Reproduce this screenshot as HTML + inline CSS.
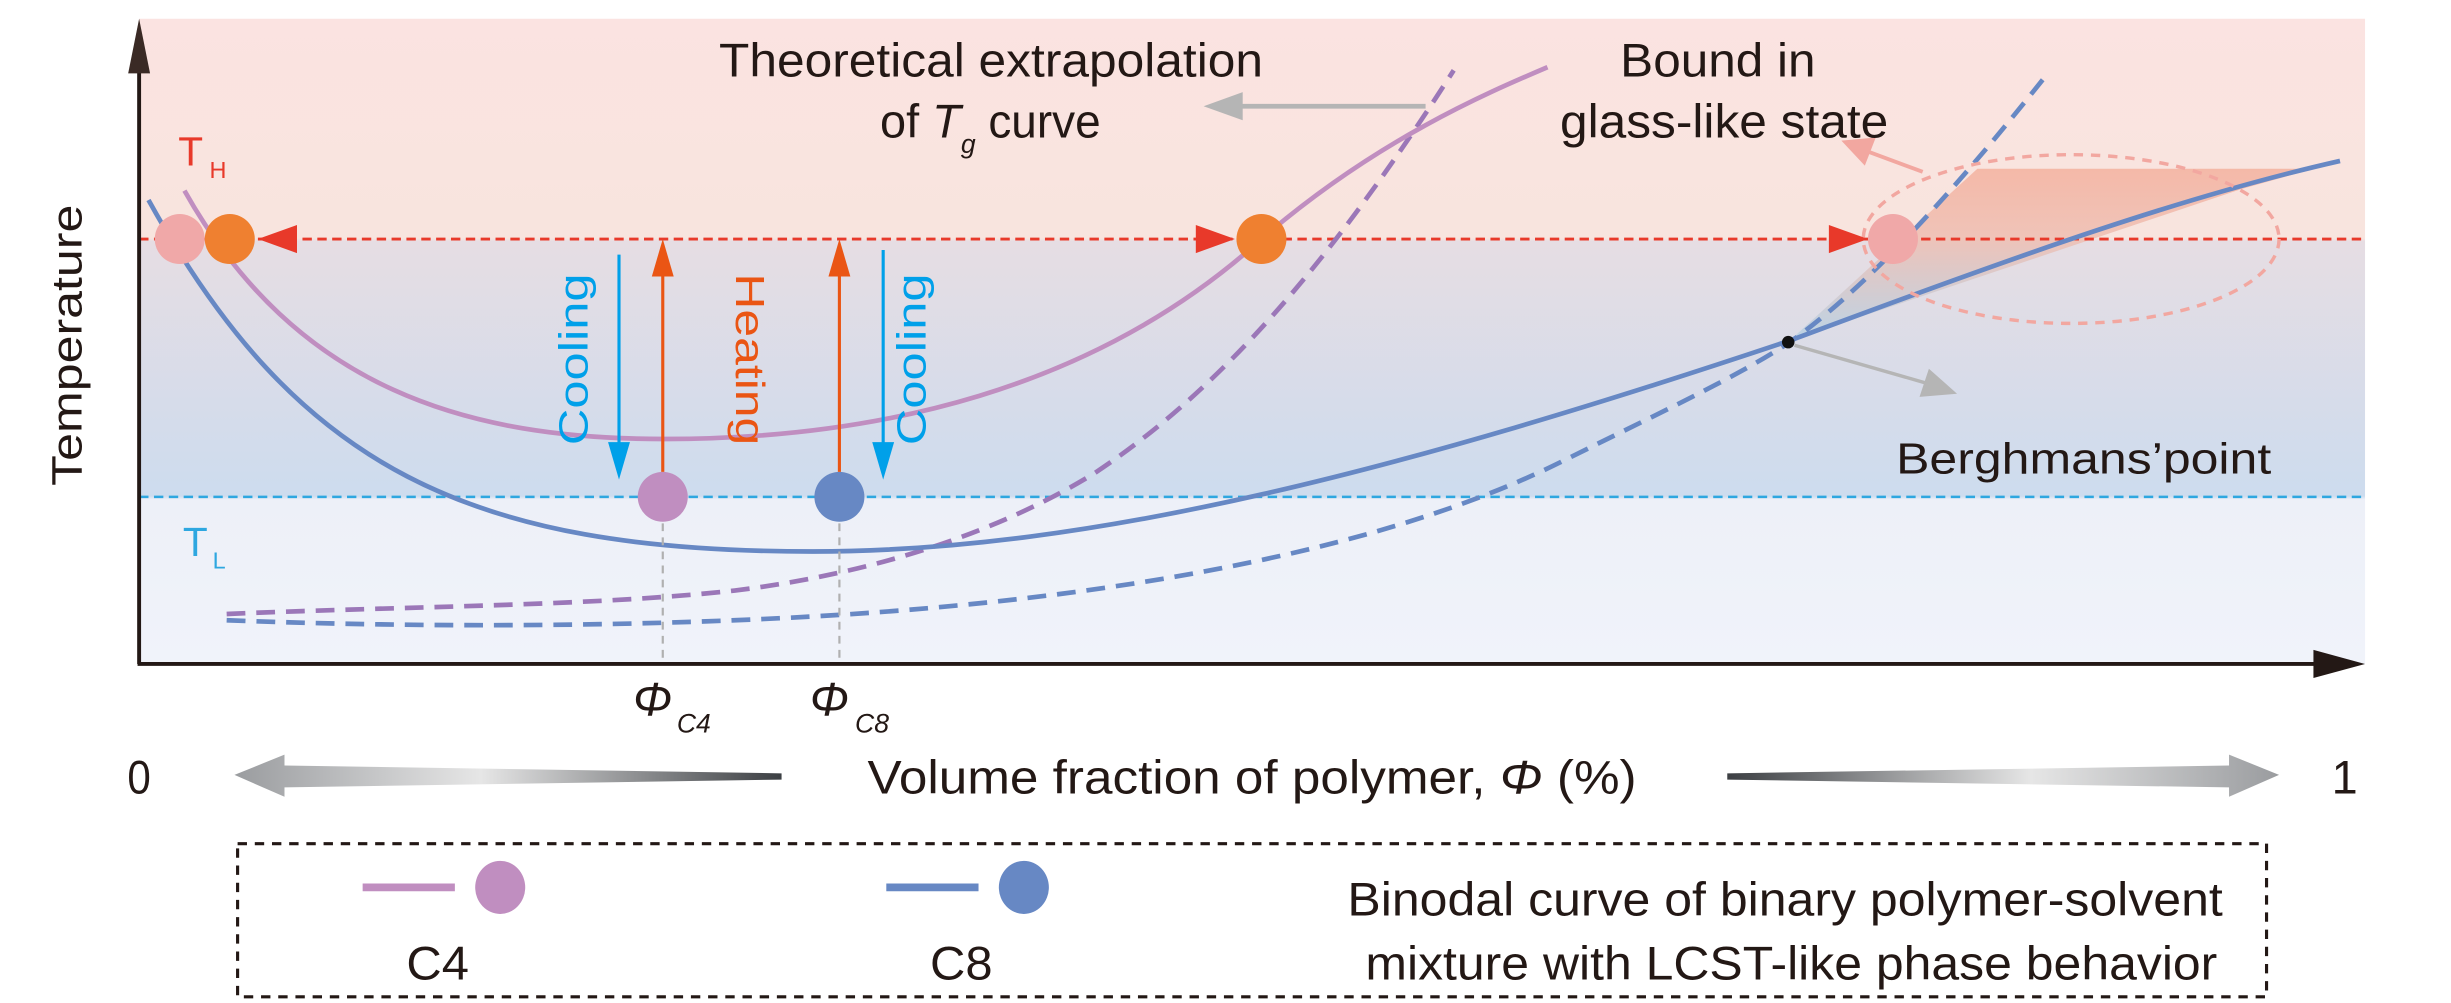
<!DOCTYPE html>
<html><head><meta charset="utf-8"><style>
html,body{margin:0;padding:0;background:#fff;}
svg{display:block;}
.n{font-family:"Liberation Sans Narrow","Liberation Sans",sans-serif;fill:#231815;}
.s{font-family:"Liberation Sans",sans-serif;}
</style></head><body>
<svg width="2451" height="1003" viewBox="0 0 1568 642" preserveAspectRatio="none" xmlns="http://www.w3.org/2000/svg">
<defs>
<linearGradient id="bg" gradientUnits="userSpaceOnUse" x1="0" y1="12" x2="0" y2="425">
<stop offset="0" stop-color="#fbe3e1"/>
<stop offset="0.34" stop-color="#f8e4de"/>
<stop offset="0.345" stop-color="#e6dde3"/>
<stop offset="0.74" stop-color="#cddcee"/>
<stop offset="0.745" stop-color="#edf0f8"/>
<stop offset="1" stop-color="#f0f3fa"/>
</linearGradient>
<linearGradient id="gl" x1="0" y1="0" x2="1" y2="0">
<stop offset="0" stop-color="#9a9c9f"/><stop offset="0.45" stop-color="#e6e6e6"/><stop offset="1" stop-color="#3c3f43"/>
</linearGradient>
<linearGradient id="gr" x1="0" y1="0" x2="1" y2="0">
<stop offset="0" stop-color="#3c3f43"/><stop offset="0.55" stop-color="#e6e6e6"/><stop offset="1" stop-color="#9a9c9f"/>
</linearGradient>
<linearGradient id="pf" gradientUnits="userSpaceOnUse" x1="0" y1="108" x2="0" y2="218">
<stop offset="0" stop-color="#f4b4a2"/><stop offset="0.4" stop-color="#efc0b4"/><stop offset="1" stop-color="#b8d3e6"/>
</linearGradient>
</defs>
<rect x="89" y="12" width="1424" height="413" fill="url(#bg)"/>
<polygon points="1145,218 1265,108 1480,108 1434,121" fill="url(#pf)" opacity="0.9"/>
<line x1="89" y1="153" x2="1513" y2="153" stroke="#e8392a" stroke-width="1.8" stroke-dasharray="6,3.5"/>
<line x1="89" y1="318" x2="1513" y2="318" stroke="#2ea7e0" stroke-width="1.6" stroke-dasharray="6,3.5"/>
<path d="M145,393 C260,388 380,388 470,378 C560,367 640,340 700,303 C780,250 850,170 930,45" fill="none" stroke="#9b77b8" stroke-width="3" stroke-dasharray="12,7"/>
<path d="M145,397 C300,403 450,400 560,392 C750,378 900,345 1000,295 C1060,265 1110,242 1145,219 C1200,180 1260,110 1310,47" fill="none" stroke="#6788c4" stroke-width="3" stroke-dasharray="12,7"/>
<path d="M118,122 C190,250 300,281 425,281 C560,281 700,250 807,153 C880,90 950,60 990,43" fill="none" stroke="#c08ec0" stroke-width="3"/>
<path d="M95,128 C190,300 300,353 520,353 C700,353 900,300 1145,218 C1300,160 1400,125 1497,103" fill="none" stroke="#6788c4" stroke-width="3"/>
<ellipse cx="1325" cy="153" rx="133" ry="54" fill="none" stroke="#f2a7a0" stroke-width="2.2" stroke-dasharray="6,5"/>
<polygon points="165,153 190,144 190,162" fill="#e8392a"/>
<polygon points="790,153 765,144 765,162" fill="#e8392a"/>
<polygon points="1195,153 1170,144 1170,162" fill="#e8392a"/>
<circle cx="115" cy="153" r="16" fill="#f0a8a8"/>
<circle cx="147" cy="153" r="16" fill="#ef8030"/>
<circle cx="807" cy="153" r="16" fill="#ef8030"/>
<circle cx="1211" cy="153" r="16" fill="#f0a8a8"/>
<line x1="424" y1="335" x2="424" y2="425" stroke="#b0b0b0" stroke-width="1.4" stroke-dasharray="5,4"/>
<line x1="537" y1="335" x2="537" y2="425" stroke="#b0b0b0" stroke-width="1.4" stroke-dasharray="5,4"/>
<circle cx="424" cy="318" r="16" fill="#c08ec0"/>
<circle cx="537" cy="318" r="16" fill="#6788c4"/>
<line x1="396" y1="163" x2="396" y2="285" stroke="#00a0e9" stroke-width="2"/>
<polygon points="396,307 389,283 403,283" fill="#00a0e9"/>
<line x1="565" y1="160" x2="565" y2="285" stroke="#00a0e9" stroke-width="2"/>
<polygon points="565,307 558,283 572,283" fill="#00a0e9"/>
<line x1="424" y1="302" x2="424" y2="175" stroke="#ea5514" stroke-width="2"/>
<polygon points="424,153 417,177 431,177" fill="#ea5514"/>
<line x1="537" y1="302" x2="537" y2="175" stroke="#ea5514" stroke-width="2"/>
<polygon points="537,153 530,177 544,177" fill="#ea5514"/>
<text class="s" transform="translate(376,230) rotate(-90)" text-anchor="middle" font-size="26" fill="#00a0e9" textLength="110" lengthAdjust="spacingAndGlyphs">Cooling</text>
<text class="s" transform="translate(592,230) rotate(-90)" text-anchor="middle" font-size="26" fill="#00a0e9" textLength="110" lengthAdjust="spacingAndGlyphs">Cooling</text>
<text class="s" transform="translate(471,230) rotate(90)" text-anchor="middle" font-size="26" fill="#ea5514" textLength="110" lengthAdjust="spacingAndGlyphs">Heating</text>
<line x1="912" y1="68" x2="790" y2="68" stroke="#b5b5b5" stroke-width="3"/>
<polygon points="770,68 795,59 795,77" fill="#b5b5b5"/>
<line x1="1230" y1="110" x2="1195" y2="97" stroke="#f2a7a0" stroke-width="2.5"/>
<polygon points="1178,90 1200,88 1193,106" fill="#f2a7a0"/>
<line x1="1148" y1="221" x2="1235" y2="246" stroke="#b5b5b5" stroke-width="2.2"/>
<polygon points="1252,252 1228,254 1234,236" fill="#b5b5b5"/>
<circle cx="1144" cy="219" r="4" fill="#111"/>
<line x1="89" y1="40" x2="89" y2="425" stroke="#231815" stroke-width="2.5"/>
<polygon points="89,12 82,47 96,47" fill="#3a2a25"/>
<line x1="88" y1="425" x2="1485" y2="425" stroke="#231815" stroke-width="2.5"/>
<polygon points="1513,425 1480,416 1480,434" fill="#231815"/>
<text class="n" x="634" y="49" text-anchor="middle" font-size="30" textLength="348" lengthAdjust="spacingAndGlyphs">Theoretical extrapolation</text>
<text class="n" x="563" y="88" font-size="30">o<tspan>f </tspan><tspan font-style="italic">T</tspan><tspan font-size="17" font-style="italic" dy="10">g</tspan><tspan dy="-10" textLength="80" lengthAdjust="spacingAndGlyphs"> curve</tspan></text>
<text class="n" x="1099" y="49" text-anchor="middle" font-size="30" textLength="125" lengthAdjust="spacingAndGlyphs">Bound in</text>
<text class="n" x="1103" y="88" text-anchor="middle" font-size="30" textLength="210" lengthAdjust="spacingAndGlyphs">glass-like state</text>
<text class="n" x="1333" y="303" text-anchor="middle" font-size="28" textLength="240" lengthAdjust="spacingAndGlyphs">Berghmans’point</text>
<text class="n" x="114" y="106" font-size="26" style="fill:#e8392a">T</text>
<text class="n" x="134" y="114" font-size="15" style="fill:#e8392a">H</text>
<text class="n" x="117" y="356" font-size="26" style="fill:#2ea7e0">T</text>
<text class="n" x="136" y="364" font-size="15" style="fill:#2ea7e0">L</text>
<text class="s" transform="translate(52,221) rotate(-90)" text-anchor="middle" font-size="27" fill="#231815" textLength="180" lengthAdjust="spacingAndGlyphs">Temperature</text>
<text class="n" x="405" y="458" font-size="30" font-style="italic">Φ</text>
<text class="n" x="433" y="469" font-size="17" font-style="italic">C4</text>
<text class="n" x="518" y="458" font-size="30" font-style="italic">Φ</text>
<text class="n" x="547" y="469" font-size="17" font-style="italic">C8</text>
<text class="n" x="89" y="508" text-anchor="middle" font-size="30" textLength="15" lengthAdjust="spacingAndGlyphs">0</text>
<text class="n" x="1500" y="508" text-anchor="middle" font-size="30">1</text>
<text class="n" x="801" y="508" text-anchor="middle" font-size="30" textLength="492" lengthAdjust="spacingAndGlyphs">Volume fraction of  polymer, <tspan font-style="italic">Φ</tspan> (%)</text>
<polygon points="150,496 182,483 182,490 500,495 500,499 182,504 182,510" fill="url(#gl)"/>
<polygon points="1458,496 1426,483 1426,490 1105,495 1105,499 1426,504 1426,510" fill="url(#gr)"/>
<rect x="152" y="540" width="1298" height="98" fill="none" stroke="#231815" stroke-width="2" stroke-dasharray="6,5"/>
<line x1="232" y1="568" x2="291" y2="568" stroke="#c08ec0" stroke-width="5"/>
<ellipse cx="320" cy="568" rx="16" ry="17" fill="#c08ec0"/>
<line x1="567" y1="568" x2="626" y2="568" stroke="#6788c4" stroke-width="5"/>
<ellipse cx="655" cy="568" rx="16" ry="17" fill="#6788c4"/>
<text class="n" x="280" y="627" text-anchor="middle" font-size="30" textLength="40" lengthAdjust="spacingAndGlyphs">C4</text>
<text class="n" x="615" y="627" text-anchor="middle" font-size="30" textLength="40" lengthAdjust="spacingAndGlyphs">C8</text>
<text class="n" x="1142" y="586" text-anchor="middle" font-size="30" textLength="560" lengthAdjust="spacingAndGlyphs">Binodal curve of binary polymer-solvent</text>
<text class="n" x="1146" y="627" text-anchor="middle" font-size="30" textLength="545" lengthAdjust="spacingAndGlyphs">mixture with LCST-like phase behavior</text>
</svg>
</body></html>
